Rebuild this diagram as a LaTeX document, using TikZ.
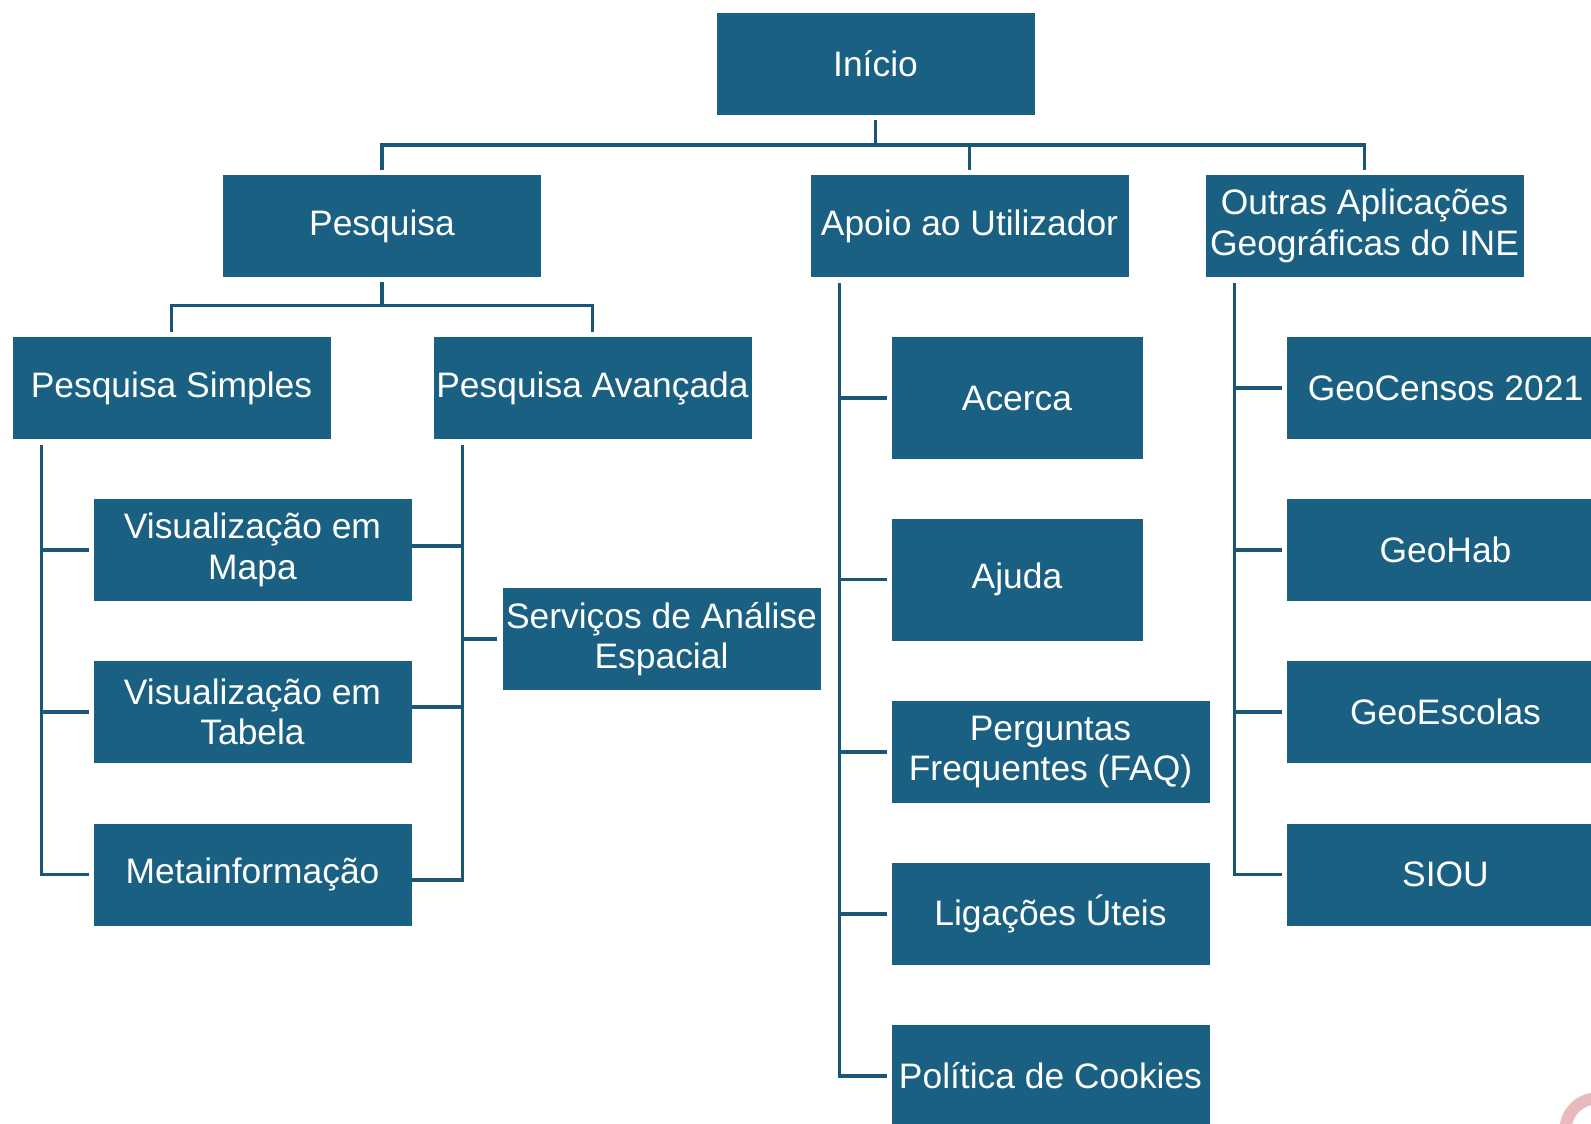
\documentclass[tikz,border=0pt]{standalone}
\usepackage{fontspec}
\setmainfont{Liberation Sans}
\definecolor{menublue}{HTML}{1A6082}
\definecolor{linkblue}{HTML}{1B5774}
\definecolor{ringpink}{HTML}{E9BABD}
\tikzset{
    menu/.style={fill=menublue, draw=white, line width=0.4pt, text=white,
    minimum width=159.5pt, minimum height=51.5pt, inner sep=0pt, align=center,
    font=\fontsize{17.7}{20.3}\selectfont},
    tallmenu/.style={menu, minimum width=126pt, minimum height=61.5pt},
    link/.style={draw=linkblue, line width=1.75pt}
}
\newcommand\trunk[2]{
    \coordinate (#1) at ([xshift=15pt,yshift=-2.5pt]#2.south west);
}
\begin{document}
\begin{tikzpicture}[x=0.5pt,y=-0.5pt]
        \useasboundingbox (0,0) rectangle (1591,1124);
        \node[menu] (inicio) at (875.5,64) {Início};
        \node[menu] (pesquisa) at (382,226) {Pesquisa};
        \node[menu] (apoio) at (969.5,226) {Apoio ao Utilizador};
        \node[menu] (outras) at (1364.5,226) {Outras Aplicações\\Geográficas do INE};
        \node[menu] (simples) at (171.5,388) {Pesquisa Simples};
        \node[menu] (avancada) at (592.5,388) {Pesquisa Avançada};
        \node[menu] (mapa) at (252.5,550) {Visualização em\\Mapa};
        \node[menu] (tabela) at (252.5,712) {Visualização em\\Tabela};
        \node[menu] (meta) at (252.5,874.5) {Metainformação};
        \node[menu] (analise) at (661.5,639) {Serviços de Análise\\Espacial};
        \node[tallmenu] (acerca) at (1017,398) {Acerca};
        \node[tallmenu] (ajuda) at (1017,579.5) {Ajuda};
        \node[menu] (faq) at (1050.5,752) {Perguntas\\Frequentes (FAQ)};
        \node[menu] (ligacoes) at (1050.5,914) {Ligações Úteis};
        \node[menu] (cookies) at (1050.5,1076) {Política de Cookies};
        \node[menu] (geocensos) at (1445.5,388) {GeoCensos 2021};
        \node[menu] (geohab) at (1445.5,550) {GeoHab};
        \node[menu] (geoescolas) at (1445.5,712) {GeoEscolas};
        \node[menu] (siou) at (1445.5,874.5) {SIOU};
        \coordinate (bus) at (875.5,145);
        \draw[link] ([yshift=-2pt]inicio.south) -- (bus);
        \draw[link] ([yshift=2pt]pesquisa.north) |- (bus) -| ([yshift=2pt]outras.north);
        \draw[link] (apoio.north |- bus) -- ([yshift=2pt]apoio.north);
        \coordinate (bus2) at (382,305.5);
        \draw[link] ([yshift=-2pt]pesquisa.south) -- (bus2);
        \draw[link] ([yshift=2pt]simples.north) |- (bus2) -| ([yshift=2pt]avancada.north);
        \trunk{t1}{simples}
        \trunk{t2}{avancada}
        \trunk{t3}{apoio}
        \trunk{t4}{outras}
        \draw[link] (t1) |- ([xshift=-2pt]meta.west);
        \foreach \n in {mapa,tabela}
            \draw[link] ([xshift=-2pt]\n.west) -| (t1);
        \draw[link] (t2) |- ([yshift=-2.75pt]meta.east);
        \draw[link] ([yshift=2pt]mapa.east) -| (t2);
        \draw[link] ([yshift=2.5pt]tabela.east) -| (t2);
        \draw[link] ([xshift=-2.5pt]analise.west) -| (t2);
        \draw[link] (t3) |- ([xshift=-2pt]cookies.west);
        \foreach \n in {acerca,ajuda,faq,ligacoes}
            \draw[link] ([xshift=-2pt]\n.west) -| (t3);
        \draw[link] (t4) |- ([xshift=-2pt]siou.west);
        \foreach \n in {geocensos,geohab,geoescolas}
            \draw[link] ([xshift=-2pt]\n.west) -| (t4);
        \draw[ringpink, line width=6pt] (1597,1130) circle[radius=15.75pt];
\end{tikzpicture}
\end{document}
